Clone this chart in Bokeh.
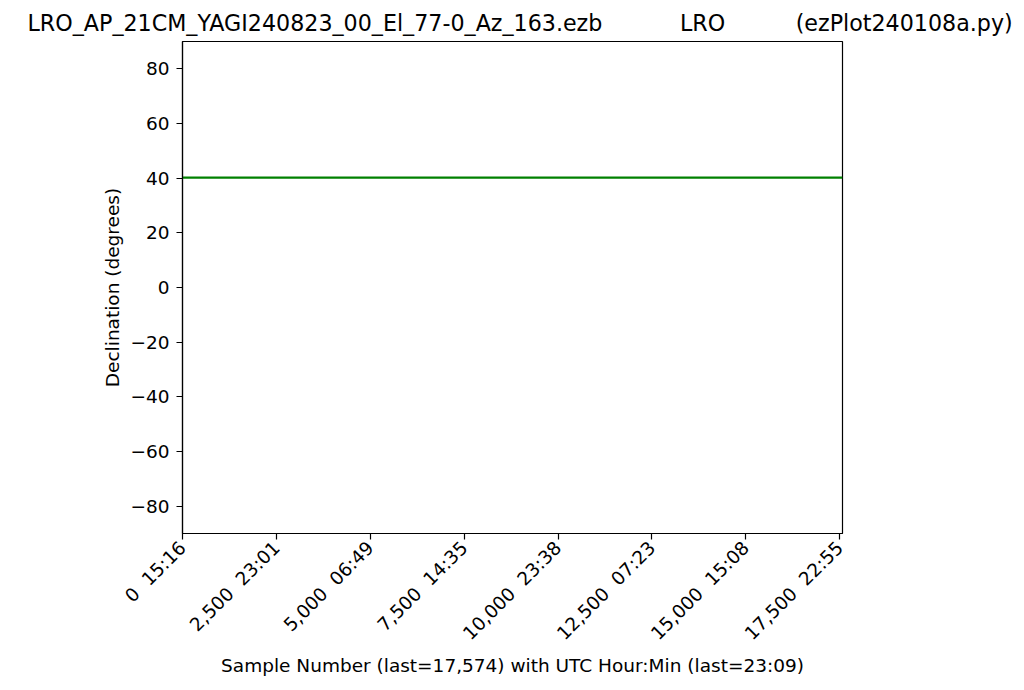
from bokeh.plotting import figure
from bokeh.models import FixedTicker, Title, Range1d
from bokeh.embed import file_html
from bokeh.resources import INLINE

# ---- data ----
sample_numbers = [0, 17574]
declinations = [40.2, 40.2]
x_ticks = [0, 2500, 5000, 7500, 10000, 12500, 15000, 17500]
x_tick_labels = ["0  15:16", "2,500  23:01", "5,000  06:49", "7,500  14:35",
                 "10,000  23:38", "12,500  07:23", "15,000  15:08", "17,500  22:55"]
y_ticks = [-80, -60, -40, -20, 0, 20, 40, 60, 80]
y_tick_labels = ["\u221280", "\u221260", "\u221240", "\u221220", "0", "20", "40", "60", "80"]
title_parts = ["LRO_AP_21CM_YAGI240823_00_El_77-0_Az_163.ezb", "LRO", "(ezPlot240108a.py)"]
x_label = "Sample Number (last=17,574) with UTC Hour:Min (last=23:09)"
y_label = "Declination (degrees)"

FONT = "DejaVu Sans"
NB = "\u00a0"

p = figure(width=1016, height=682, output_backend="svg", toolbar_location=None,
           x_range=Range1d(0, 17574), y_range=Range1d(-90, 90),
           min_border_left=182, min_border_right=174, min_border_top=41, min_border_bottom=149,
           title=None)

p.line(sample_numbers, declinations, line_color="green", line_width=2.2)

p.xgrid.visible = False
p.ygrid.visible = False
p.outline_line_color = "black"
p.outline_line_width = 1.2
p.outline_line_alpha = 1
p.background_fill_color = "white"
p.border_fill_color = "white"

for ax in (p.xaxis[0], p.yaxis[0]):
    ax.axis_line_color = "black"
    ax.axis_line_width = 1.2
    ax.major_tick_line_color = "black"
    ax.major_tick_line_width = 1.2
    ax.minor_tick_line_color = None
    ax.major_tick_in = 0
    ax.major_tick_out = 6
    ax.major_label_text_font = FONT
    ax.major_label_text_font_size = "18.5px"
    ax.major_label_text_color = "black"
    ax.axis_label_text_font = FONT
    ax.axis_label_text_font_size = "18.5px"
    ax.axis_label_text_font_style = "normal"
    ax.axis_label_text_color = "black"

p.xaxis.ticker = FixedTicker(ticks=x_ticks)
p.xaxis.major_label_overrides = {t: l.replace(" ", NB) for t, l in zip(x_ticks, x_tick_labels)}
p.xaxis.major_label_orientation = 0.7853981634
p.xaxis.major_label_standoff = 5
p.xaxis.axis_label = x_label
p.xaxis.axis_label_standoff = 1

p.yaxis.ticker = FixedTicker(ticks=y_ticks)
p.yaxis.major_label_overrides = {t: l for t, l in zip(y_ticks, y_tick_labels)}
p.yaxis.major_label_standoff = 7
p.yaxis.axis_label = y_label
p.yaxis.axis_label_standoff = 4

title_text = title_parts[0] + NB * 11 + title_parts[1] + NB * 10 + title_parts[2]
t = Title(text=title_text, align="left", text_font=FONT, text_font_size="22.2px",
          text_font_style="normal", text_color="black", offset=-155, standoff=11)
p.add_layout(t, "above")

open("out.html", "w").write(file_html(p, INLINE))
